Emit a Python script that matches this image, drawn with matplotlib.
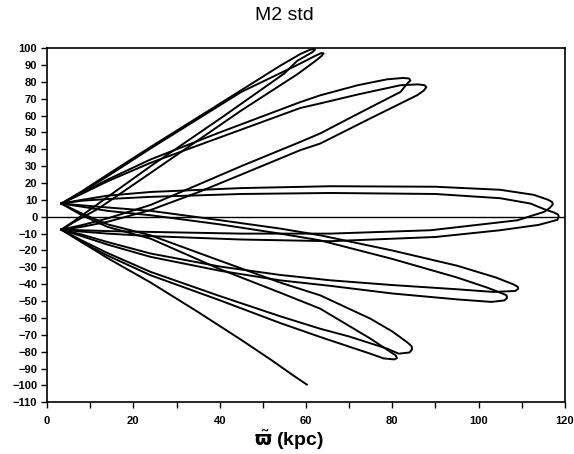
import numpy as np
import matplotlib
matplotlib.use("Agg")
import matplotlib.pyplot as plt
from matplotlib.ticker import MultipleLocator

# orbit in the meridional plane, read off the plot petal by petal
# (w = cylindrical radius in kpc, z = height in kpc)
a1_w = [3.3, 8, 14, 24, 40, 54, 58.7, 60.8, 61.8, 62.1, 61.5, 58, 55, 40, 24, 12, 6, 3.3]
a1_z = [7.8, 15, 25, 41.4, 67, 89.5, 96.5, 98.9, 99.6, 99.1, 97.6, 92.5, 85, 58, 30, 8, -3, -7.6]

a2_w = [3.4, 8, 14, 24, 45, 58, 62.3, 63.6, 64.1, 63.6, 62, 58, 45, 24, 12, 6, 3.4]
a2_z = [8.0, 14.5, 24, 40.5, 74, 90, 95.6, 97.1, 96.9, 95.3, 92, 84.5, 63, 26, 5, -3.5, -7.8]

b1_w = [3.3, 8, 14, 24, 40, 58.7, 63.3, 72, 78.8, 82.5, 83.9, 84.2, 83.5, 81.9, 72, 63.3, 58.7, 45, 35, 24, 14, 8, 3.3]
b1_z = [7.8, 14, 22, 34, 50, 68, 72, 78, 81.5, 82.3, 82.0, 80.8, 79.0, 74, 61, 49.4, 44.4, 30, 19, 7, -1, -5, -7.6]

b2_w = [3.4, 8, 14, 24, 40, 58.7, 63.3, 72, 81.9, 86, 87.5, 87.9, 87.3, 85.8, 74.9, 63.3, 58.7, 45, 35, 24, 14, 8, 3.4]
b2_z = [8.0, 13.5, 21, 32, 47, 64.5, 67.2, 72.5, 78, 78.5, 78.0, 76.8, 74.8, 72.1, 58.3, 43.4, 39.5, 25, 14.5, 4, -3, -6, -7.8]

c1_w = [3.3, 8, 14, 24, 45, 65.7, 90, 105, 112.8, 116, 117.1, 117.2, 116.5, 115.2, 109, 88.9, 65.7, 45, 24, 14, 8, 3.3]
c1_z = [7.8, 10, 12.5, 14.7, 17, 18.1, 17.8, 16, 13, 10.2, 8.7, 7.3, 5.2, 2.9, -2.1, -8, -10, -10, -9, -8.5, -8, -7.6]

c2_w = [3.3, 8, 14, 24, 45, 65.7, 90, 105, 112.1, 115.2, 117.5, 118.4, 118.6, 118.3, 114, 105, 90, 65.7, 45, 24, 14, 8, 3.3]
c2_z = [7.8, 9.5, 10.5, 11.8, 13.5, 14.1, 13.5, 11, 7.8, 4.5, 2.5, 1.4, 0.2, -1.8, -4.8, -8, -12, -14.5, -13.5, -11.5, -10, -8.8, -7.6]

d1_w = [3.3, 8, 14, 24, 40, 54, 63.3, 80, 95, 104, 108, 109.1, 109.2, 108.5, 103.5, 95, 80, 65.7, 54, 40, 24, 14, 8, 3.3]
d1_z = [7.8, 6.8, 5.5, 3.5, -2, -7, -11, -20, -29, -36, -40, -41.5, -42.8, -44, -44.6, -43, -40.5, -37.7, -34.5, -29.5, -21.8, -15, -10.5, -7.6]

d2_w = [3.3, 8, 14, 24, 40, 54, 63.3, 80, 95, 102, 105.5, 106.5, 106.6, 106, 103, 95, 80, 65.7, 54, 40, 24, 14, 8, 3.3]
d2_z = [7.8, 6, 3.5, 0.9, -4.5, -10, -14, -25, -36, -42, -45.5, -46.6, -48.2, -49.6, -50.5, -49, -45.5, -41, -37.7, -32, -23.8, -16.5, -11.5, -7.6]

e1_w = [3.3, 8, 14, 24, 40, 54, 63.3, 74.9, 80, 83.5, 84.5, 84.6, 84, 81.5, 78.8, 70, 63.3, 54, 40, 24, 14, 8, 3.3]
e1_z = [7.8, 2, -4.5, -11, -26, -39, -46.6, -60.4, -68, -74.5, -76.8, -78.6, -80.5, -81.2, -78.2, -71, -66.4, -59, -47, -32.7, -21.5, -14, -7.6]

e2_w = [3.3, 8, 14, 24, 40, 54, 63.3, 74.9, 79.5, 80.8, 81.1, 80.5, 78, 74.9, 63.3, 54, 40, 24, 14, 8, 3.3]
e2_z = [7.8, 1, -6, -13, -31, -45, -54.5, -72.2, -80, -82.2, -83.8, -84.6, -84, -81.2, -71.3, -63, -49.5, -34.7, -23, -15, -7.6]

# last (unfinished) excursion
f_w = [3.3, 8, 14, 24, 35, 45, 52, 57, 60.2]
f_z = [-7.6, -15, -24.5, -39, -56.5, -73, -85, -94, -99.5]

petals = [(a1_w, a1_z), (a2_w, a2_z), (b1_w, b1_z), (b2_w, b2_z),
          (c1_w, c1_z), (c2_w, c2_z), (d1_w, d1_z), (d2_w, d2_z),
          (e1_w, e1_z), (e2_w, e2_z), (f_w, f_z)]

plt.rcParams["font.family"] = ["Liberation Sans", "DejaVu Sans"]

fig = plt.figure(figsize=(5.74, 4.54), dpi=100)
ax = fig.add_axes([0.082, 0.114, 0.902, 0.78])

for w, z in petals:
    ax.plot(w, z, color="black", lw=1.4, solid_joinstyle="round")

ax.axhline(0, color="black", lw=1.0)

ax.set_xlim(0, 120)
ax.set_ylim(-110, 100)
ax.xaxis.set_major_locator(MultipleLocator(20))
ax.xaxis.set_minor_locator(MultipleLocator(10))
ax.yaxis.set_major_locator(MultipleLocator(10))
ax.tick_params(axis="both", which="both", direction="out", length=4, width=1.0,
               labelsize=8, pad=3)
ax.tick_params(axis="x", pad=6)
for lab in ax.get_xticklabels() + ax.get_yticklabels():
    lab.set_fontweight("bold")
for sp in ax.spines.values():
    sp.set_linewidth(1.2)

fig.text(0.495, 0.965, "M2 std", ha="center", va="center", fontsize=14)
fig.text(0.503, 0.03, r"$\mathbf{\tilde{\varpi}}$ (kpc)", ha="center", va="center",
         fontsize=14, fontweight="bold")

fig.savefig("out.png", dpi=100)
